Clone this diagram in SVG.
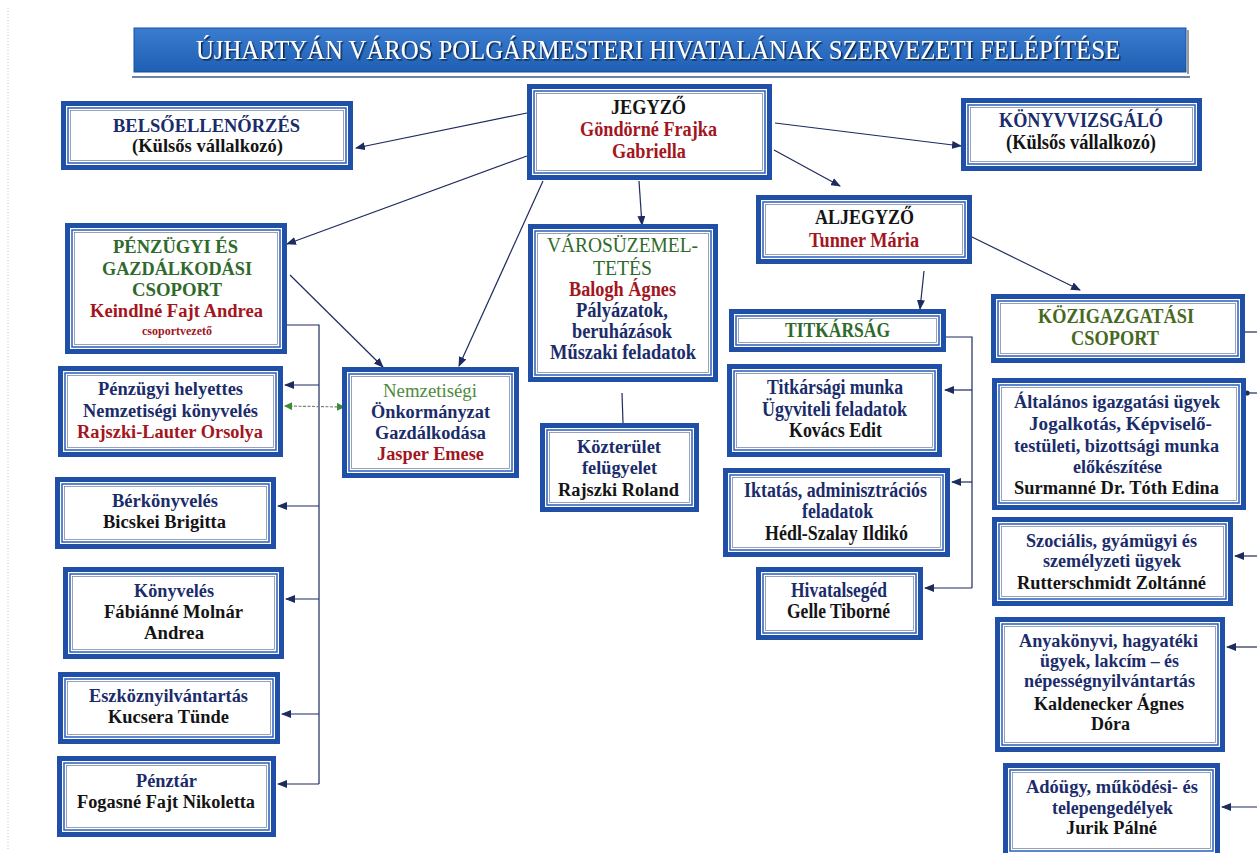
<svg xmlns="http://www.w3.org/2000/svg" width="1257" height="853" viewBox="0 0 1257 853" font-family="'Liberation Serif','DejaVu Serif',serif">
<style>
.o{fill:#fff;stroke:#1f4fa6;stroke-width:5}
.i{fill:none;stroke:#3568c0;stroke-width:1.6}
.j{fill:none;stroke:#6d7a98;stroke-width:0.7}
text{font-family:'Liberation Serif','DejaVu Serif','Times New Roman',serif;font-size:18px;font-weight:bold;text-anchor:middle}
.t{font-size:20px}
.b{fill:#1b2c6b}.r{fill:#a3161e}.g{fill:#2f6a2c}.k{fill:#141414}.lg{fill:#4d8a3a;font-weight:normal}.og{fill:#46691f}
.c{fill:none;stroke:#1d2b5e;stroke-width:1.2}
.a{marker-end:url(#ar)}
</style>
<defs>
<linearGradient id="tg" x1="0" y1="0" x2="0" y2="1"><stop offset="0" stop-color="#3a7ccf"/><stop offset="1" stop-color="#1f5fb3"/></linearGradient>
<filter id="sh" filterUnits="userSpaceOnUse" x="134" y="28" width="1052" height="44"><feDropShadow dx="1.5" dy="1.5" stdDeviation="0.6" flood-color="#0b1a3a" flood-opacity="0.9"/></filter>
<marker id="ar" markerUnits="userSpaceOnUse" markerWidth="10" markerHeight="8" refX="9" refY="4" orient="auto"><path d="M0,0 L10,4 L0,8 Z" fill="#1d2b5e"/></marker>
<marker id="gr" markerUnits="userSpaceOnUse" markerWidth="8" markerHeight="8" refX="7" refY="4" orient="auto-start-reverse"><path d="M0,0 L8,4 L0,8 Z" fill="#3f8a35"/></marker>
<marker id="dt" markerUnits="userSpaceOnUse" markerWidth="6" markerHeight="6" refX="3" refY="3"><circle cx="3" cy="3" r="2.6" fill="#1d2b5e"/></marker>
</defs>
<rect width="1257" height="853" fill="#fff"/>
<line x1="8" y1="8" x2="8" y2="850" stroke="#c4c4c4" stroke-width="1" stroke-dasharray="1,2"/>

<g id="title">
<rect x="134" y="28" width="1052" height="44" fill="url(#tg)" stroke="#1a4f9c" stroke-width="1"/>
<line x1="1188" y1="30" x2="1188" y2="74" stroke="#9a9a9a" stroke-width="2"/>
<line x1="132" y1="77" x2="1190" y2="77" stroke="#6c84a8" stroke-width="2"/>
<text x="658" y="59" style="font-size:28px;font-weight:normal;fill:#fff" textLength="924" lengthAdjust="spacingAndGlyphs" filter="url(#sh)">ÚJHARTYÁN VÁROS POLGÁRMESTERI HIVATALÁNAK  SZERVEZETI FELÉPÍTÉSE</text>
</g>

<g id="connectors">
<path class="c a" d="M527,113 L356,148"/>
<path class="c a" d="M527,156 L287,244"/>
<path class="c a" d="M543,181 L459,366"/>
<path class="c a" d="M639,181 L642,225"/>
<path class="c a" d="M775,123 L961,146"/>
<path class="c a" d="M774,150 L840,186"/>
<path class="c a" d="M290,275 L383,367"/>
<path class="c a" d="M924,271 L920,309"/>
<path class="c a" d="M972,237 L1080,290"/>
<path class="c" d="M287,325 H319 V784"/>
<path class="c a" d="M319,385 H285"/>
<path class="c a" d="M319,506 H278"/>
<path class="c a" d="M319,599 H286"/>
<path class="c a" d="M319,714 H282"/>
<path class="c a" d="M319,784 H278"/>
<path d="M285,406 L344,407" fill="none" stroke="#7a857a" stroke-width="1.2" stroke-dasharray="3,1.5" marker-start="url(#gr)" marker-end="url(#gr)"/>
<path class="c" d="M622,393 L623,423"/>
<path class="c" d="M946,337 H972 V588"/>
<path class="c a" d="M972,390 H945"/>
<path class="c a" d="M972,482 H952"/>
<path class="c a" d="M972,588 H925"/>
<path class="c" d="M1245,332 H1257"/>
<path class="c" d="M1257,393 H1247" marker-end="url(#dt)"/>
<path class="c a" d="M1257,556 H1235"/>
<path class="c a" d="M1257,647 H1227"/>
<path class="c a" d="M1257,807 H1222"/>
</g>

<g id="belsoellenorzes">
<rect class="o" x="63.5" y="103.5" width="287" height="64"/><rect class="i" x="68" y="108" width="278" height="55"/><rect class="j" x="70.5" y="110.5" width="273" height="50"/>
<text class="b" x="206.5" y="132" textLength="187" lengthAdjust="spacingAndGlyphs">BELSŐELLENŐRZÉS</text>
<text class="k" x="207.5" y="152" textLength="151" lengthAdjust="spacingAndGlyphs">(Külsős vállalkozó)</text>
</g>

<g id="jegyzo">
<rect class="o" x="529.5" y="86.5" width="240" height="91"/><rect class="i" x="534" y="91" width="231" height="82"/><rect class="j" x="536.5" y="93.5" width="226" height="77"/>
<text class="k t" x="648.5" y="114" textLength="75" lengthAdjust="spacingAndGlyphs">JEGYZŐ</text>
<text class="r t" x="648.5" y="136" textLength="137" lengthAdjust="spacingAndGlyphs">Göndörné Frajka</text>
<text class="r t" x="649" y="158" textLength="74" lengthAdjust="spacingAndGlyphs">Gabriella</text>
</g>

<g id="konyvvizsgalo">
<rect class="o" x="963.5" y="100.5" width="236" height="68"/><rect class="i" x="968" y="105" width="227" height="59"/><rect class="j" x="970.5" y="107.5" width="222" height="54"/>
<text class="b t" x="1081" y="127" textLength="164" lengthAdjust="spacingAndGlyphs">KÖNYVVIZSGÁLÓ</text>
<text class="k t" x="1081" y="149" textLength="150" lengthAdjust="spacingAndGlyphs">(Külsős vállalkozó)</text>
</g>

<g id="penzugyi-csoport">
<rect class="o" x="67.5" y="225.5" width="217" height="126"/><rect class="i" x="72" y="230" width="208" height="117"/><rect class="j" x="74.5" y="232.5" width="203" height="112"/>
<text class="g" x="175.5" y="253" textLength="125" lengthAdjust="spacingAndGlyphs">PÉNZÜGYI ÉS</text>
<text class="g" x="177" y="275" textLength="150" lengthAdjust="spacingAndGlyphs">GAZDÁLKODÁSI</text>
<text class="g" x="177" y="296" textLength="90" lengthAdjust="spacingAndGlyphs">CSOPORT</text>
<text class="r" x="176.5" y="317" textLength="173" lengthAdjust="spacingAndGlyphs">Keindlné Fajt Andrea</text>
<text class="r" x="177" y="335" style="font-size:12px" textLength="70" lengthAdjust="spacingAndGlyphs">csoportvezető</text>
</g>

<g id="varosuzemeltetes">
<rect class="o" x="530.5" y="226.5" width="185" height="153"/><rect class="i" x="535" y="231" width="176" height="144"/><rect class="j" x="537.5" y="233.5" width="171" height="139"/>
<text class="g t" x="622.5" y="252" style="font-weight:normal" textLength="151" lengthAdjust="spacingAndGlyphs">VÁROSÜZEMEL-</text>
<text class="g t" x="622.5" y="275" style="font-weight:normal" textLength="59" lengthAdjust="spacingAndGlyphs">TETÉS</text>
<text class="r t" x="622.5" y="296" textLength="107" lengthAdjust="spacingAndGlyphs">Balogh Ágnes</text>
<text class="b t" x="622" y="317" textLength="92" lengthAdjust="spacingAndGlyphs">Pályázatok,</text>
<text class="b t" x="622" y="338" textLength="100" lengthAdjust="spacingAndGlyphs">beruházások</text>
<text class="b t" x="623" y="359" textLength="146" lengthAdjust="spacingAndGlyphs">Műszaki feladatok</text>
</g>

<g id="aljegyzo">
<rect class="o" x="758.5" y="197.5" width="211" height="64"/><rect class="i" x="763" y="202" width="202" height="55"/><rect class="j" x="765.5" y="204.5" width="197" height="50"/>
<text class="k t" x="864.5" y="224" textLength="99" lengthAdjust="spacingAndGlyphs">ALJEGYZŐ</text>
<text class="r t" x="864" y="247" textLength="110" lengthAdjust="spacingAndGlyphs">Tunner Mária</text>
</g>

<g id="titkarsag">
<rect class="o" x="731.5" y="311.5" width="212" height="38"/><rect class="i" x="736" y="316" width="203" height="29"/><rect class="j" x="738.5" y="318.5" width="198" height="24"/>
<text class="g t" x="837.5" y="337" textLength="105" lengthAdjust="spacingAndGlyphs">TITKÁRSÁG</text>
</g>

<g id="kozigazgatasi-csoport">
<rect class="o" x="993.5" y="296.5" width="249" height="64"/><rect class="i" x="998" y="301" width="240" height="55"/><rect class="j" x="1000.5" y="303.5" width="235" height="50"/>
<text class="og t" x="1116" y="323" textLength="156" lengthAdjust="spacingAndGlyphs">KÖZIGAZGATÁSI</text>
<text class="og t" x="1115" y="345" textLength="88" lengthAdjust="spacingAndGlyphs">CSOPORT</text>
</g>

<g id="penzugyi-helyettes">
<rect class="o" x="60.5" y="368.5" width="220" height="86"/><rect class="i" x="65" y="373" width="211" height="77"/><rect class="j" x="67.5" y="375.5" width="206" height="72"/>
<text class="b" x="170.5" y="395" textLength="145" lengthAdjust="spacingAndGlyphs">Pénzügyi helyettes</text>
<text class="b" x="170.5" y="417" textLength="175" lengthAdjust="spacingAndGlyphs">Nemzetiségi könyvelés</text>
<text class="r" x="170" y="438" textLength="186" lengthAdjust="spacingAndGlyphs">Rajszki-Lauter Orsolya</text>
</g>

<g id="nemzetisegi">
<rect class="o" x="344.5" y="369.5" width="172" height="106"/><rect class="i" x="349" y="374" width="163" height="97"/><rect class="j" x="351.5" y="376.5" width="158" height="92"/>
<text class="lg" x="430" y="397" textLength="94" lengthAdjust="spacingAndGlyphs">Nemzetiségi</text>
<text class="b" x="430.5" y="418" textLength="119" lengthAdjust="spacingAndGlyphs">Önkormányzat</text>
<text class="b" x="430.5" y="439" textLength="111" lengthAdjust="spacingAndGlyphs">Gazdálkodása</text>
<text class="r" x="430.5" y="460" textLength="107" lengthAdjust="spacingAndGlyphs">Jasper Emese</text>
</g>

<g id="kozterulet">
<rect class="o" x="542.5" y="425.5" width="154" height="84"/><rect class="i" x="547" y="430" width="145" height="75"/><rect class="j" x="549.5" y="432.5" width="140" height="70"/>
<text class="b" x="619" y="453" textLength="84" lengthAdjust="spacingAndGlyphs">Közterület</text>
<text class="b" x="619.5" y="474" textLength="75" lengthAdjust="spacingAndGlyphs">felügyelet</text>
<text class="k" x="618.5" y="496" textLength="121" lengthAdjust="spacingAndGlyphs">Rajszki Roland</text>
</g>

<g id="titkarsagi-munka">
<rect class="o" x="729.5" y="366.5" width="210" height="88"/><rect class="i" x="734" y="371" width="201" height="79"/><rect class="j" x="736.5" y="373.5" width="196" height="74"/>
<text class="b t" x="835" y="394" textLength="136" lengthAdjust="spacingAndGlyphs">Titkársági munka</text>
<text class="b t" x="834.5" y="416" textLength="145" lengthAdjust="spacingAndGlyphs">Ügyviteli feladatok</text>
<text class="k t" x="835.5" y="437" textLength="93" lengthAdjust="spacingAndGlyphs">Kovács Edit</text>
</g>

<g id="iktatas">
<rect class="o" x="725.5" y="470.5" width="222" height="84"/><rect class="i" x="730" y="475" width="213" height="75"/><rect class="j" x="732.5" y="477.5" width="208" height="70"/>
<text class="b t" x="835.5" y="497" textLength="183" lengthAdjust="spacingAndGlyphs">Iktatás, adminisztrációs</text>
<text class="b t" x="837.5" y="518" textLength="71" lengthAdjust="spacingAndGlyphs">feladatok</text>
<text class="k t" x="836.5" y="540" textLength="143" lengthAdjust="spacingAndGlyphs">Hédl-Szalay Ildikó</text>
</g>

<g id="hivatalseged">
<rect class="o" x="758.5" y="569.5" width="162" height="68"/><rect class="i" x="763" y="574" width="153" height="59"/><rect class="j" x="765.5" y="576.5" width="148" height="54"/>
<text class="b t" x="839" y="597" textLength="96" lengthAdjust="spacingAndGlyphs">Hivatalsegéd</text>
<text class="k t" x="838.5" y="618" textLength="103" lengthAdjust="spacingAndGlyphs">Gelle Tiborné</text>
</g>

<g id="berkonyveles">
<rect class="o" x="57.5" y="479.5" width="216" height="67"/><rect class="i" x="62" y="484" width="207" height="58"/><rect class="j" x="64.5" y="486.5" width="202" height="53"/>
<text class="b" x="165" y="507" textLength="106" lengthAdjust="spacingAndGlyphs">Bérkönyvelés</text>
<text class="k" x="164.5" y="528" textLength="123" lengthAdjust="spacingAndGlyphs">Bicskei Brigitta</text>
</g>

<g id="konyveles">
<rect class="o" x="65.5" y="569.5" width="216" height="87"/><rect class="i" x="70" y="574" width="207" height="78"/><rect class="j" x="72.5" y="576.5" width="202" height="73"/>
<text class="b" x="174" y="597" textLength="80" lengthAdjust="spacingAndGlyphs">Könyvelés</text>
<text class="k" x="173.5" y="618" textLength="139" lengthAdjust="spacingAndGlyphs">Fábiánné Molnár</text>
<text class="k" x="174" y="639" textLength="60" lengthAdjust="spacingAndGlyphs">Andrea</text>
</g>

<g id="eszkoznyilvantartas">
<rect class="o" x="60.5" y="674.5" width="217" height="67"/><rect class="i" x="65" y="679" width="208" height="58"/><rect class="j" x="67.5" y="681.5" width="203" height="53"/>
<text class="b" x="168.5" y="702" textLength="159" lengthAdjust="spacingAndGlyphs">Eszköznyilvántartás</text>
<text class="k" x="168.5" y="723" textLength="121" lengthAdjust="spacingAndGlyphs">Kucsera Tünde</text>
</g>

<g id="penztar">
<rect class="o" x="59.5" y="758.5" width="214" height="76"/><rect class="i" x="64" y="763" width="205" height="67"/><rect class="j" x="66.5" y="765.5" width="200" height="62"/>
<text class="b" x="166.5" y="787" textLength="61" lengthAdjust="spacingAndGlyphs">Pénztár</text>
<text class="k" x="166" y="808" textLength="178" lengthAdjust="spacingAndGlyphs">Fogasné Fajt Nikoletta</text>
</g>

<g id="altalanos">
<rect class="o" x="994.5" y="380.5" width="249" height="127"/><rect class="i" x="999" y="385" width="240" height="118"/><rect class="j" x="1001.5" y="387.5" width="235" height="113"/>
<text class="b" x="1117" y="408" textLength="206" lengthAdjust="spacingAndGlyphs">Általános igazgatási ügyek</text>
<text class="b" x="1120.5" y="430" textLength="183" lengthAdjust="spacingAndGlyphs">Jogalkotás, Képviselő-</text>
<text class="b" x="1116.5" y="452" textLength="205" lengthAdjust="spacingAndGlyphs">testületi, bizottsági munka</text>
<text class="b" x="1117.5" y="473" textLength="89" lengthAdjust="spacingAndGlyphs">előkészítése</text>
<text class="k" x="1116.5" y="494" textLength="205" lengthAdjust="spacingAndGlyphs">Surmanné Dr. Tóth Edina</text>
</g>

<g id="szocialis">
<rect class="o" x="994.5" y="519.5" width="236" height="84"/><rect class="i" x="999" y="524" width="227" height="75"/><rect class="j" x="1001.5" y="526.5" width="222" height="70"/>
<text class="b" x="1111.5" y="547" textLength="171" lengthAdjust="spacingAndGlyphs">Szociális, gyámügyi és</text>
<text class="b" x="1112" y="567" textLength="138" lengthAdjust="spacingAndGlyphs">személyzeti ügyek</text>
<text class="k" x="1111.5" y="589" textLength="189" lengthAdjust="spacingAndGlyphs">Rutterschmidt Zoltánné</text>
</g>

<g id="anyakonyvi">
<rect class="o" x="997.5" y="619.5" width="225" height="130"/><rect class="i" x="1002" y="624" width="216" height="121"/><rect class="j" x="1004.5" y="626.5" width="211" height="116"/>
<text class="b" x="1108.5" y="647" textLength="179" lengthAdjust="spacingAndGlyphs">Anyakönyvi, hagyatéki</text>
<text class="b" x="1109.5" y="667" textLength="139" lengthAdjust="spacingAndGlyphs">ügyek, lakcím – és</text>
<text class="b" x="1109.5" y="687" textLength="171" lengthAdjust="spacingAndGlyphs">népességnyilvántartás</text>
<text class="k" x="1109" y="710" textLength="150" lengthAdjust="spacingAndGlyphs">Kaldenecker Ágnes</text>
<text class="k" x="1110.5" y="730" textLength="39" lengthAdjust="spacingAndGlyphs">Dóra</text>
</g>

<g id="adougy">
<rect class="o" x="1005.5" y="765.5" width="212" height="90"/><rect class="i" x="1010" y="770" width="203" height="81"/><rect class="j" x="1012.5" y="772.5" width="198" height="76"/>
<text class="b" x="1112" y="793" textLength="172" lengthAdjust="spacingAndGlyphs">Adóügy, működési- és</text>
<text class="b" x="1112.5" y="814" textLength="121" lengthAdjust="spacingAndGlyphs">telepengedélyek</text>
<text class="k" x="1111.5" y="834" textLength="91" lengthAdjust="spacingAndGlyphs">Jurik Pálné</text>
</g>
</svg>
